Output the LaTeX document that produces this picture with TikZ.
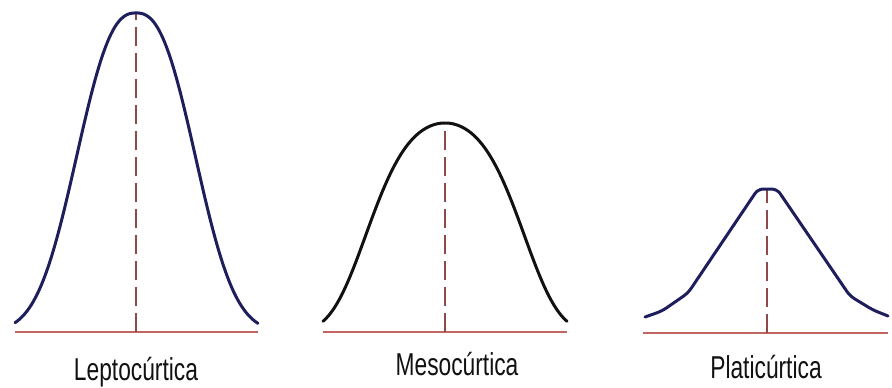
\documentclass[tikz,border=0pt]{standalone}
\usepackage{fontspec}
\setmainfont{Liberation Sans}[FakeStretch=0.72]
\usetikzlibrary{positioning}
\definecolor{navy}{HTML}{1E1E5C}
\definecolor{ink}{HTML}{111111}
\definecolor{axis}{HTML}{C06464}
\definecolor{mean}{HTML}{8E4A4A}
\tikzset{
  curve/.style={draw=#1,line width=0.06cm,line join=round,line cap=round},
  baseline/.style={draw=axis,line width=0.045cm},
  meanline/.style={draw=mean,line width=0.04cm,dash pattern=on 0.38cm off 0.14cm},
  tag/.style={anchor=base,font=\fontsize{18}{20}\selectfont,text=ink,inner sep=0pt}
}
\begin{document}
\begin{tikzpicture}[x=0.02cm,y=-0.02cm]
    \useasboundingbox (0,0) rectangle (892,387);

    % leptocurtica
    \draw[baseline] (15,332) -- (258,332);
    \draw[meanline] (136,332) -- (136,14);
    \draw[curve=navy] plot[domain=15:258,samples=120] (\x,{332-319*exp(-((abs(\x-136)+0.001)/73)^2.5)});
    \node[tag] (lepto) at (136,380) {Leptocúrtica};

    % mesocurtica
    \draw[baseline] (323,332) -- (567,332);
    \draw[meanline] (445,332) -- (445,122);
    \draw[curve=ink] plot[domain=323:567,samples=121] (\x,{332-209*exp(-0.661*((\x-445)/100)^2-0.898*((\x-445)/100)^4)});
    \node[tag] (meso) at (457,375) {Mesocúrtica};

    % platicurtica
    \draw[baseline] (643,333) -- (888,333);
    \draw[meanline] (767,333) -- (767,190);
    \draw[curve=navy,rounded corners=3pt] (645,317) -- (662,311) -- (688,293) -- (758,189) -- (777,189) -- (850,296) -- (873,310) -- (888,316);
    \node[tag] (plati) at (766,378) {Platicúrtica};
  \end{tikzpicture}
\end{document}
